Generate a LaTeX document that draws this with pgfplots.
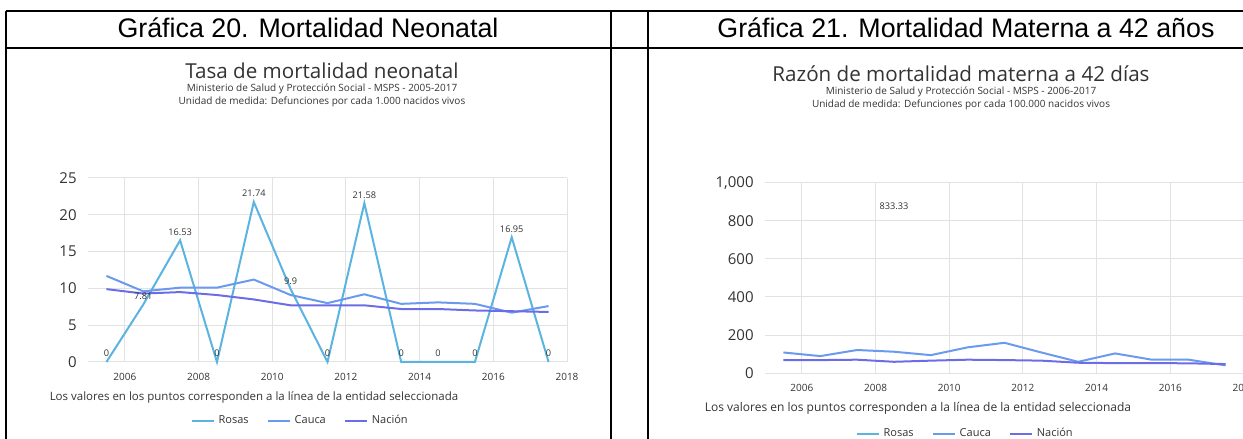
\documentclass[border=0pt]{standalone}
\usepackage{fontspec}
\setmainfont{Open Sans}
\newfontfamily\arial{Liberation Sans}
\usepackage{pgfplots}
\pgfplotsset{compat=1.18}
\definecolor{rosas}{HTML}{5BB3E0}
\definecolor{cauca}{HTML}{6A9AEE}
\definecolor{nacion}{HTML}{6C6DE6}
\definecolor{gridc}{HTML}{E2E2E2}
\definecolor{txt}{HTML}{333333}
\pgfplotsset{
  mychart/.style={
    scale only axis, width=239.5pt,
    xmin=2005, xmax=2018, xtick={2006,2008,...,2018},
    axis line style={draw=none}, tick style={draw=none},
    grid=major, major grid style={gridc, line width=0.5pt},
    /pgf/number format/assume math mode=true,
    xticklabel style={font=\fontsize{5}{6}\selectfont, text=txt, inner sep=0pt, anchor=north, yshift=-5.5pt, /pgf/number format/1000 sep=},
    yticklabel style={font=\fontsize{7.5}{8}\selectfont, text=txt, inner sep=0pt, anchor=east, xshift=-5.5pt},
    scaled y ticks=false,
    clip=false,
    legend columns=3,
    legend style={draw=none, fill=none, font=\fontsize{5.5}{6}\selectfont, text=txt, anchor=center,
      /tikz/every even column/.append style={column sep=7pt}},
    legend image code/.code={\draw[#1, line width=1pt] (0pt,0pt) -- (11pt,0pt);},
    every node near coord/.append style={font=\fontsize{4.6}{5}\selectfont, text=txt, inner sep=0pt, yshift=2pt},
  }
}
\begin{document}
\begin{tikzpicture}
\path[use as bounding box] (0,0) rectangle (621.5pt,219.5pt);
\clip (0,0) rectangle (621.5pt,219.5pt);
\begin{scope}[x=0.5pt,y=0.5pt]
\coordinate (LA) at (88,77);
\coordinate (RA) at (765,66);
% table lines
\draw[line width=1pt] (6,428) -- (1243,428);
\draw[line width=1pt] (6,391) -- (1243,391);
\draw[line width=1pt] (6,428) -- (6,0);
\draw[line width=1pt] (611,428) -- (611,0);
\draw[line width=1pt] (648,428) -- (648,0);
% headers
\node[anchor=base, inner sep=0pt, font=\arial\fontsize{13.4}{15}\selectfont] at (308,401) {Gráfica 20. Mortalidad Neonatal};
\node[anchor=base, inner sep=0pt, font=\arial\fontsize{13.4}{15}\selectfont] at (966,401) {Gráfica 21. Mortalidad Materna a 42 años};
% left chart titles
\node[anchor=base, inner sep=0pt, text=txt, font=\fontsize{10.3}{12}\selectfont] at (322,360) {Tasa de mortalidad neonatal};
\node[anchor=base, inner sep=0pt, text=txt, font=\fontsize{5}{6}\selectfont] at (322,347) {Ministerio de Salud y Protección Social - MSPS - 2005-2017};
\node[anchor=base, inner sep=0pt, text=txt, font=\fontsize{5}{6}\selectfont] at (322,334) {Unidad de medida: Defunciones por cada 1.000 nacidos vivos};
\node[anchor=base, inner sep=0pt, text=txt, font=\fontsize{5.75}{6}\selectfont] at (254,38) {Los valores en los puntos corresponden a la línea de la entidad seleccionada};
% right chart titles
\node[anchor=base, inner sep=0pt, text=txt, font=\fontsize{10.3}{12}\selectfont] at (961,357) {Razón de mortalidad materna a 42 días};
\node[anchor=base, inner sep=0pt, text=txt, font=\fontsize{5}{6}\selectfont] at (961,344) {Ministerio de Salud y Protección Social - MSPS - 2006-2017};
\node[anchor=base, inner sep=0pt, text=txt, font=\fontsize{5}{6}\selectfont] at (961,331) {Unidad de medida: Defunciones por cada 100.000 nacidos vivos};
\node[anchor=base, inner sep=0pt, text=txt, font=\fontsize{6}{7}\selectfont] at (918,27) {Los valores en los puntos corresponden a la línea de la entidad seleccionada};
\end{scope}

\begin{axis}[mychart, at={(LA)}, anchor=south west, height=92pt,
  ymin=0, ymax=25, ytick={0,5,...,25},
  legend style={at={(0.445,-0.32)}}]
\addplot[rosas, line width=1pt, nodes near coords] coordinates {
 (2005.5,0) (2006.5,7.81) (2007.5,16.53) (2008.5,0) (2009.5,21.74) (2010.5,9.9) (2011.5,0)
 (2012.5,21.58) (2013.5,0) (2014.5,0) (2015.5,0) (2016.5,16.95) (2017.5,0)};
\addlegendentry{Rosas}
\addplot[cauca, line width=1pt] coordinates {
 (2005.5,11.7) (2006.5,9.6) (2007.5,10.1) (2008.5,10.1) (2009.5,11.2) (2010.5,9.1) (2011.5,8.0)
 (2012.5,9.2) (2013.5,7.9) (2014.5,8.1) (2015.5,7.9) (2016.5,6.7) (2017.5,7.6)};
\addlegendentry{Cauca}
\addplot[nacion, line width=1pt] coordinates {
 (2005.5,9.9) (2006.5,9.3) (2007.5,9.5) (2008.5,9.1) (2009.5,8.5) (2010.5,7.7) (2011.5,7.7)
 (2012.5,7.7) (2013.5,7.2) (2014.5,7.2) (2015.5,7.0) (2016.5,6.9) (2017.5,6.8)};
\addlegendentry{Nación}
\end{axis}

\begin{axis}[mychart, at={(RA)}, anchor=south west, height=95pt,
  ymin=0, ymax=1000, ytick={0,200,...,1000},
  yticklabel style={/pgf/number format/1000 sep={,}},
  legend style={at={(0.42,-0.32)}}]
\addplot[rosas, line width=1pt, nodes near coords] coordinates {(2008.5,833.33)};
\addlegendentry{Rosas}
\addplot[cauca, line width=1pt] coordinates {
 (2005.5,108) (2006.5,89) (2007.5,121) (2008.5,112) (2009.5,94) (2010.5,135) (2011.5,159)
 (2012.5,108) (2013.5,59) (2014.5,103) (2015.5,70) (2016.5,70) (2017.5,40)};
\addlegendentry{Cauca}
\addplot[nacion, line width=1pt] coordinates {
 (2005.5,68) (2006.5,68) (2007.5,70) (2008.5,59) (2009.5,65) (2010.5,70) (2011.5,68)
 (2012.5,65) (2013.5,54) (2014.5,52) (2015.5,52) (2016.5,51) (2017.5,47)};
\addlegendentry{Nación}
\end{axis}
\end{tikzpicture}
\end{document}
